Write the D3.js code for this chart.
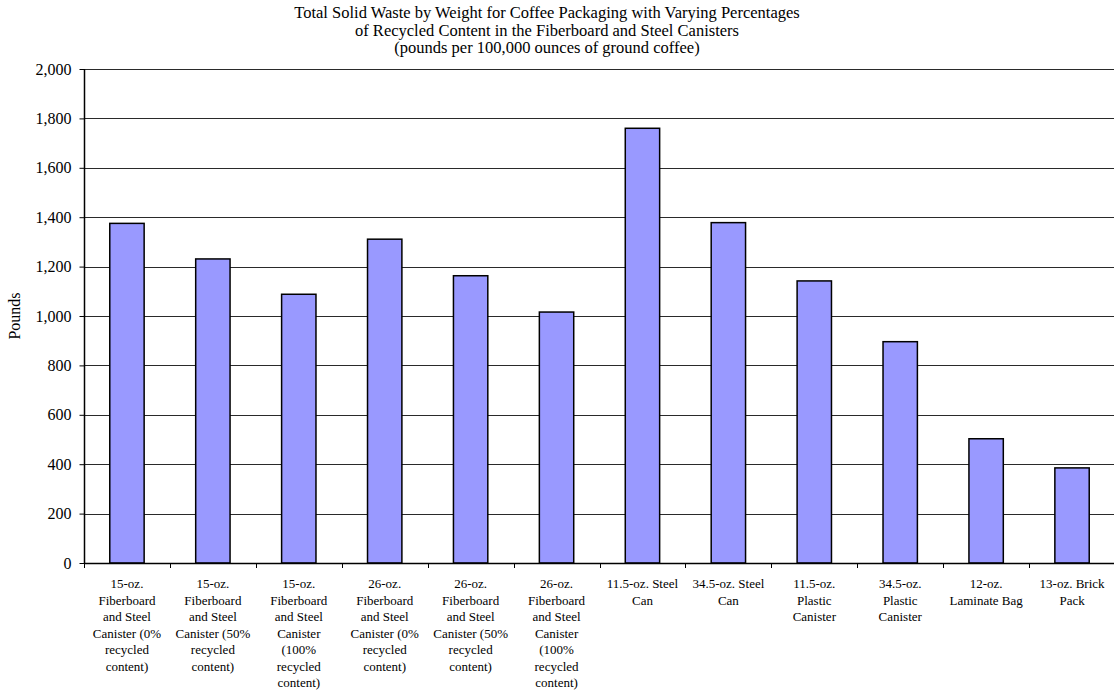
<!DOCTYPE html>
<html>
<head>
<meta charset="utf-8">
<script src="https://cdn.jsdelivr.net/npm/d3@7"></script>
<style>
  html, body { margin: 0; padding: 0; background: #fff; }
  svg { display: block; }
  text { font-family: "Liberation Serif", "Times New Roman", serif; fill: #000; }
</style>
</head>
<body>
<svg id="chart" width="1114" height="698"></svg>
<script>
// Package types (line breaks mark where each axis label wraps)
const categories = [
  "15-oz.\nFiberboard\nand Steel\nCanister (0%\nrecycled\ncontent)",
  "15-oz.\nFiberboard\nand Steel\nCanister (50%\nrecycled\ncontent)",
  "15-oz.\nFiberboard\nand Steel\nCanister\n(100%\nrecycled\ncontent)",
  "26-oz.\nFiberboard\nand Steel\nCanister (0%\nrecycled\ncontent)",
  "26-oz.\nFiberboard\nand Steel\nCanister (50%\nrecycled\ncontent)",
  "26-oz.\nFiberboard\nand Steel\nCanister\n(100%\nrecycled\ncontent)",
  "11.5-oz. Steel\nCan",
  "34.5-oz. Steel\nCan",
  "11.5-oz.\nPlastic\nCanister",
  "34.5-oz.\nPlastic\nCanister",
  "12-oz.\nLaminate Bag",
  "13-oz. Brick\nPack"
];

// Total solid waste, pounds per 100,000 ounces of ground coffee
const pounds = [1375, 1231, 1088, 1311, 1163, 1016, 1760, 1378, 1142, 896, 503, 385];

const yTicks = [0, 200, 400, 600, 800, 1000, 1200, 1400, 1600, 1800, 2000];

const titleLines = [
  "Total Solid Waste by Weight for Coffee Packaging with Varying Percentages",
  "of Recycled Content in the Fiberboard and Steel Canisters",
  "(pounds per 100,000 ounces of ground coffee)"
];
const yTitle = "Pounds";

const svg = d3.select("#chart");
const plot = { left: 84, right: 1115, top: 69, bottom: 563 };

const x = d3.scaleBand()
  .domain(categories)
  .range([plot.left, plot.right])
  .paddingInner(0.6)
  .paddingOuter(0.3);

const y = d3.scaleLinear()
  .domain([0, 2000])
  .range([plot.bottom, plot.top]);

// Horizontal gridlines
svg.append("g")
  .selectAll("line")
  .data(yTicks.filter(d => d > 0))
  .join("line")
  .attr("x1", plot.left)
  .attr("x2", 1114)
  .attr("y1", d => Math.round(y(d)) + 0.5)
  .attr("y2", d => Math.round(y(d)) + 0.5)
  .attr("stroke", "#2a2a2a")
  .attr("stroke-width", 1);

// Bars
svg.append("g")
  .selectAll("rect")
  .data(pounds)
  .join("rect")
  .attr("x", (d, i) => x(categories[i]))
  .attr("y", d => y(d))
  .attr("width", x.bandwidth())
  .attr("height", d => y(0) - y(d))
  .attr("fill", "#9999ff")
  .attr("stroke", "#000")
  .attr("stroke-width", 1.5);

// Y axis
const yAxis = d3.axisLeft(y)
  .tickValues(yTicks)
  .tickFormat(d3.format(","))
  .tickSize(5)
  .tickPadding(8);

const gy = svg.append("g")
  .attr("transform", `translate(${plot.left + 0.5},0)`)
  .call(yAxis);
gy.select(".domain").attr("stroke", "#000").attr("stroke-width", 1.5)
  .attr("d", `M0,${plot.top}V${plot.bottom}`);
gy.selectAll(".tick line").attr("stroke", "#000");
gy.selectAll(".tick text")
  .style("font-family", '"Liberation Serif", serif')
  .style("font-size", "16px")
  .attr("fill", "#000");

// X axis line and category-boundary ticks
const step = x.step();
const gap = step * x.paddingInner() / 2;
const boundaries = categories.map(c => x(c) - gap);

svg.append("line")
  .attr("x1", plot.left).attr("x2", 1114)
  .attr("y1", y(0) + 0.5).attr("y2", y(0) + 0.5)
  .attr("stroke", "#000").attr("stroke-width", 1.5);

svg.append("g")
  .selectAll("line")
  .data(boundaries)
  .join("line")
  .attr("x1", d => Math.round(d) + 0.5)
  .attr("x2", d => Math.round(d) + 0.5)
  .attr("y1", y(0))
  .attr("y2", y(0) + 5)
  .attr("stroke", "#000");

// Category labels
const labels = svg.append("g")
  .selectAll("text")
  .data(categories)
  .join("text")
  .attr("text-anchor", "middle")
  .style("font-size", "13px")
  .attr("transform", d => `translate(${x(d) + x.bandwidth() / 2},588)`);

labels.selectAll("tspan")
  .data(d => d.split("\n"))
  .join("tspan")
  .attr("x", 0)
  .attr("y", (d, i) => i * 16.5)
  .text(d => d);

// Title
svg.append("g")
  .selectAll("text")
  .data(titleLines)
  .join("text")
  .attr("x", 547)
  .attr("y", (d, i) => 18 + i * 17.5)
  .attr("text-anchor", "middle")
  .style("font-size", "16.5px")
  .text(d => d);

// Y axis title
svg.append("text")
  .attr("transform", `translate(20,${(plot.top + plot.bottom) / 2}) rotate(-90)`)
  .attr("text-anchor", "middle")
  .style("font-size", "16px")
  .text(yTitle);
</script>
</body>
</html>
